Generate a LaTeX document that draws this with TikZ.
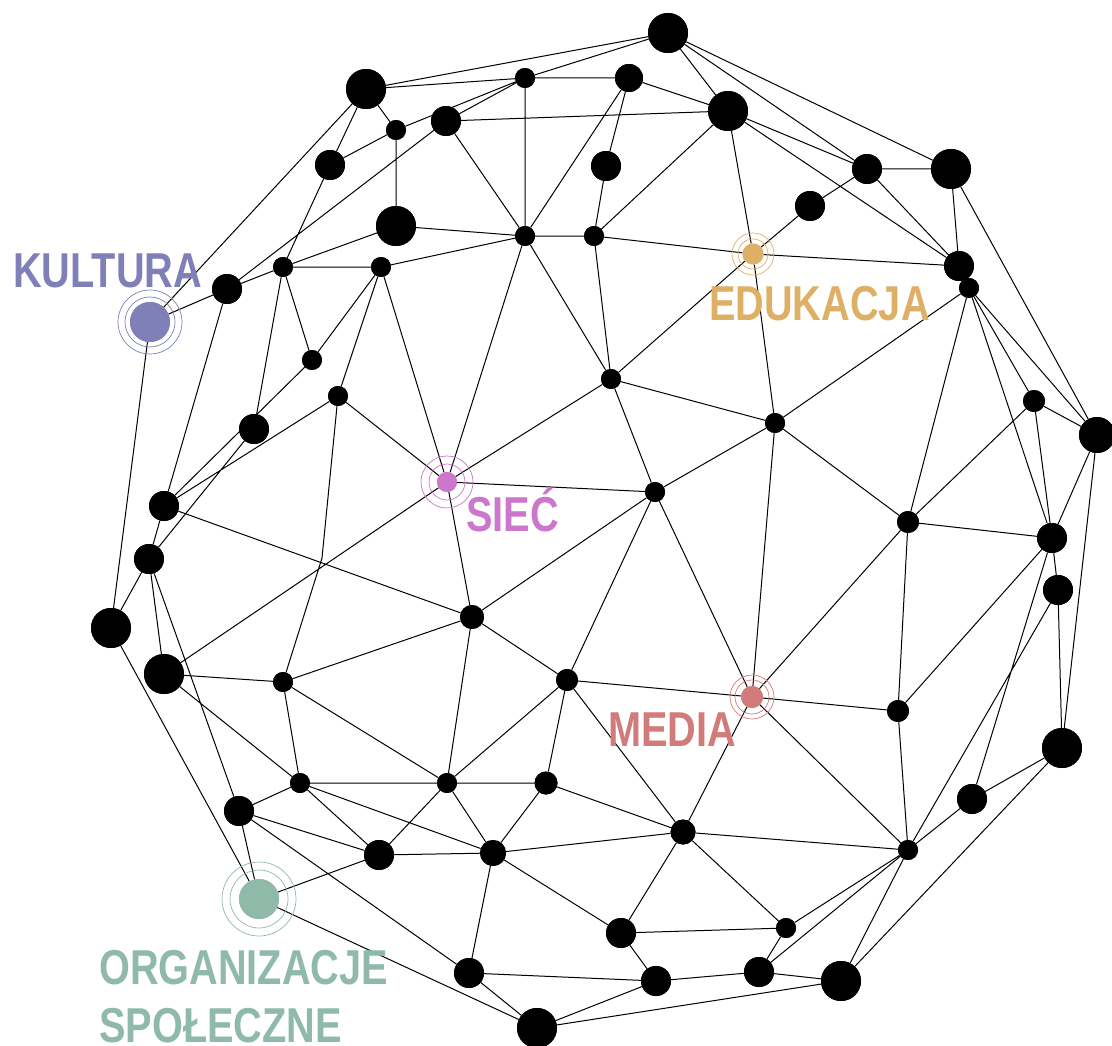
\documentclass[tikz,border=0pt]{standalone}
\usepackage{fontspec}
\newfontfamily\labfont[FakeStretch=0.81]{Liberation Sans Bold}
\definecolor{kult}{HTML}{8080B8}
\definecolor{edu}{HTML}{DEB066}
\definecolor{siec}{HTML}{CC77CC}
\definecolor{media}{HTML}{D27B7B}
\definecolor{org}{HTML}{8FBAAA}
\begin{document}
\begin{tikzpicture}[x=1pt,y=-1pt,
  dot/.style={circle,fill=black,inner sep=0pt,minimum size=#1pt},
  hub/.style={circle,fill=#1,inner sep=0pt},
  ring/.style={draw=#1,line width=0.7pt},
  edge/.style={line width=1pt,black},
  lab/.style={inner sep=0pt,anchor=base west,font=\labfont\fontsize{49}{62}\selectfont}]
\useasboundingbox[fill=white] (0,0) rectangle (1112,1046);
% nodes
\node[dot=40] (A) at (366,89) {};
\node[dot=30] (B) at (330,165) {};
\node[dot=20] (C) at (396,130) {};
\node[dot=40] (D) at (396,226) {};
\node[dot=30] (E) at (227,289) {};
\node[dot=20] (F) at (283,267) {};
\node[dot=20] (G) at (381,267) {};
\node[dot=20] (H) at (312,360) {};
\node[dot=40] (I) at (668,33) {};
\node[dot=20] (J) at (525,78) {};
\node[dot=28] (L) at (629,78) {};
\node[dot=40] (M) at (728,111) {};
\node[dot=30] (N) at (446,121) {};
\node[dot=30] (O) at (606,166) {};
\node[dot=20] (P) at (525,236) {};
\node[dot=20] (Q) at (594,236) {};
\node[dot=30] (R) at (867,169) {};
\node[dot=40] (S) at (951,169) {};
\node[dot=30] (T) at (810,206) {};
\node[dot=30] (U) at (959,266) {};
\node[dot=20] (V) at (969,288) {};
\node[dot=20] (W) at (338,396) {};
\node[dot=30] (X) at (254,429) {};
\node[dot=30] (Y) at (164,506) {};
\node[dot=30] (Z) at (149,559) {};
\node[dot=40] (AA) at (111,628) {};
\node[dot=40] (AB) at (164,674) {};
\node[dot=20] (AC) at (283,682) {};
\node[dot=20] (FA) at (611,379) {};
\node[dot=20] (FB) at (655,492) {};
\node[dot=20] (FC) at (775,423) {};
\node[dot=24] (CN) at (472,617) {};
\node[dot=22] (DA) at (567,680) {};
\node[dot=20] (DB) at (447,783) {};
\node[dot=23] (DC) at (546,783) {};
\node[dot=26] (DD) at (493,853) {};
\node[dot=25] (DE) at (683,832) {};
\node[dot=30] (DF) at (621,933) {};
\node[dot=30] (DG) at (469,973) {};
\node[dot=30] (DH) at (656,981) {};
\node[dot=30] (DI) at (759,972) {};
\node[dot=40] (DJ) at (537,1028) {};
\node[dot=30] (BA) at (239,811) {};
\node[dot=20] (BB) at (300,783) {};
\node[dot=30] (BC) at (379,855) {};
\node[dot=22] (GA) at (908,522) {};
\node[dot=22] (GB) at (1034,401) {};
\node[dot=36] (GC) at (1097,435) {};
\node[dot=30] (GD) at (1052,538) {};
\node[dot=30] (GE) at (1058,590) {};
\node[dot=22] (ED) at (898,711) {};
\node[dot=40] (EE) at (1062,748) {};
\node[dot=30] (EF) at (972,799) {};
\node[dot=20] (EA) at (908,850) {};
\node[dot=20] (EB) at (786,928) {};
\node[dot=40] (EC) at (841,981) {};
\coordinate (bend) at (322,558);
% hubs
\node[hub=kult,minimum size=40pt] (K) at (150,322) {};
\node[hub=edu,minimum size=21pt] (Ed) at (753,254) {};
\node[hub=siec,minimum size=20pt] (Si) at (447,482) {};
\node[hub=media,minimum size=22pt] (Me) at (752,697) {};
\node[hub=org,minimum size=40pt] (Or) at (259,899) {};
% edges
\draw[edge] (A)--(I) (A)--(J) (A)--(C) (A)--(B) (A)--(K)
 (B)--(C) (B)--(F) (C)--(D) (C)--(J)
 (N)--(E) (N)--(J) (N)--(M) (N)--(P)
 (D)--(F) (D)--(P) (E)--(F) (E)--(K) (E)--(Y)
 (F)--(G) (F)--(H) (F)--(X)
 (G)--(P) (G)--(H) (G)--(W) (G)--(Si)
 (I)--(J) (I)--(M) (I)--(S) (I)--(R)
 (J)--(L) (J)--(P) (L)--(M) (L)--(O) (L)--(P) (O)--(Q)
 (P)--(Q) (P)--(FA) (P)--(Si)
 (Q)--(M) (Q)--(Ed) (Q)--(FA)
 (M)--(R) (M)--(U) (M)--(Ed) (Ed)--(FC)
 (R)--(S) (R)--(U) (R)--(T) (T)--(Ed)
 (S)--(U) (S)--(GC) (Ed)--(U) (Ed)--(FA)
 (V)--(FC) (V)--(GA) (V)--(GD) (V)--(GB) (V)--(GC)
 (H)--(Y) (W)--(Y) (W)--(Si) (W)--(bend)--(AC)
 (X)--(Z) (Y)--(Z) (Y)--(CN)
 (Z)--(AA) (Z)--(AB) (Z)--(BA) (K)--(AA) (AA)--(Or)
 (AB)--(Si) (AB)--(AC) (AB)--(BB)
 (AC)--(BB) (AC)--(CN) (AC)--(DB)
 (BA)--(Or) (BA)--(BB) (BA)--(BC) (BA)--(DG)
 (BB)--(DB) (BB)--(DD) (BB)--(BC)
 (Or)--(BC) (Or)--(DJ)
 (Si)--(FA) (Si)--(FB) (Si)--(CN)
 (CN)--(FB) (CN)--(DA) (CN)--(DB)
 (FA)--(FB) (FA)--(FC)
 (FB)--(FC) (FB)--(DA) (FB)--(Me)
 (FC)--(GA) (FC)--(Me)
 (GA)--(GB) (GA)--(GD) (GA)--(Me) (GA)--(ED)
 (GB)--(GC) (GB)--(GD) (GC)--(GD) (GC)--(EE)
 (GD)--(GE) (GD)--(ED) (GD)--(EF)
 (GE)--(EA) (GE)--(EE)
 (DA)--(Me) (DA)--(DB) (DA)--(DC) (DA)--(DE)
 (DB)--(DC) (DB)--(DD) (DB)--(BC) (BC)--(DD)
 (DC)--(DD) (DC)--(DE)
 (DD)--(DE) (DD)--(DF) (DD)--(DG)
 (DE)--(EA) (DE)--(Me) (DE)--(EB) (DE)--(DF)
 (DF)--(EB) (DF)--(DH)
 (DG)--(DH) (DH)--(DI) (DG)--(DJ)
 (DJ)--(DH) (DJ)--(EC)
 (Me)--(ED) (Me)--(EA) (ED)--(EA)
 (EF)--(EE) (EF)--(EA)
 (EA)--(EB) (EA)--(DI) (EA)--(EC)
 (EE)--(EC) (EB)--(DI) (DI)--(EC);
% redraw dots on top of edges
\foreach \n/\d in {A/40,B/30,C/20,D/40,E/30,F/20,G/20,H/20,I/40,J/20,L/28,M/40,N/30,O/30,P/20,Q/20,R/30,S/40,T/30,U/30,V/20,W/20,X/30,Y/30,Z/30,AA/40,AB/40,AC/20,FA/20,FB/20,FC/20,CN/24,DA/22,DB/20,DC/23,DD/26,DE/25,DF/30,DG/30,DH/30,DI/30,DJ/40,BA/30,BB/20,BC/30,GA/22,GB/22,GC/36,GD/30,GE/30,ED/22,EE/40,EF/30,EA/20,EB/20,EC/40}
  {\fill[black] (\n.center) circle[radius=\d pt/2];}
\fill[kult] (K.center) circle[radius=20pt];
\draw[ring=kult] (K.center) circle[radius=25pt] (K.center) circle[radius=32pt];
\fill[edu] (Ed.center) circle[radius=10.5pt];
\draw[ring=edu] (Ed.center) circle[radius=15pt] (Ed.center) circle[radius=21pt];
\fill[siec] (Si.center) circle[radius=10pt];
\draw[ring=siec] (Si.center) circle[radius=18pt] (Si.center) circle[radius=26pt];
\fill[media] (Me.center) circle[radius=11pt];
\draw[ring=media] (Me.center) circle[radius=17pt] (Me.center) circle[radius=22pt];
\fill[org] (Or.center) circle[radius=20pt];
\draw[ring=org] (Or.center) circle[radius=29pt] (Or.center) circle[radius=37pt];
% labels
\node[lab,text=kult] (tK) at (13,287) {KULTURA};
\node[lab,text=edu] (tE) at (709,320) {EDUKACJA};
\node[lab,text=siec] (tS) at (466,531) {SIEĆ};
\node[lab,text=media] (tM) at (608,746) {MEDIA};
\node[lab,text=org] (tO1) at (99,984) {ORGANIZACJE};
\node[lab,text=org] (tO2) at (99,1042) {SPOŁECZNE};
\end{tikzpicture}
\end{document}
